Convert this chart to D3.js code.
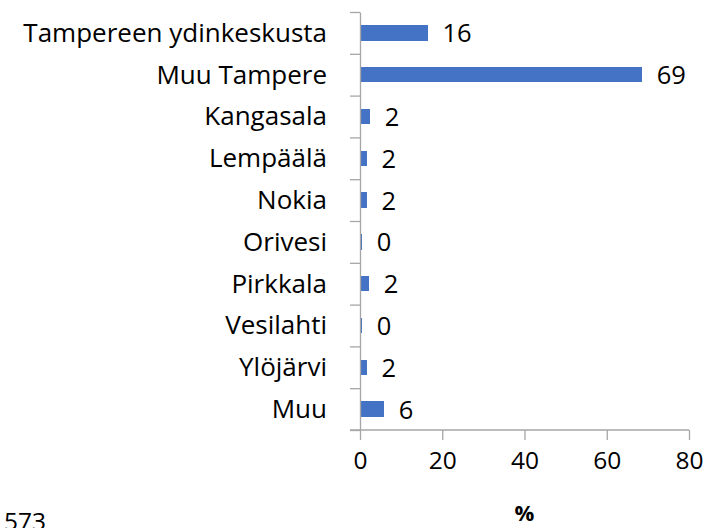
<!DOCTYPE html>
<html>
<head>
<meta charset="utf-8">
<script src="https://cdn.jsdelivr.net/npm/d3@7"></script>
<style>
  body { margin: 0; background: #fff; }
  svg text { font-family: "Open Sans", Lato, sans-serif; fill: #000; }
</style>
</head>
<body>
<div id="chart"></div>
<script>
(function () {

  // categories, top to bottom
  var places = ["Tampereen ydinkeskusta", "Muu Tampere", "Kangasala", "Lempäälä",
                "Nokia", "Orivesi", "Pirkkala", "Vesilahti", "Ylöjärvi", "Muu"];
  // share of respondents, %
  var shares = [16.4, 68.5, 2.4, 1.6, 1.6, 0.45, 2.1, 0.45, 1.6, 5.8];
  var xTicks = [0, 20, 40, 60, 80];
  var axisTitle = "%";
  var nNote = "573";

  var width = 710, height = 528;
  var fontSize = 24.5;

  var svg = d3.select("#chart")
    .append("svg")
    .attr("width", width)
    .attr("height", height);

  // value axis
  var xPositionScale = d3.scaleLinear()
    .domain([0, 80])
    .range([360, 689]);

  // categories
  var yPositionScale = d3.scaleBand()
    .domain(places)
    .range([12, 430])
    .paddingInner(0.63)
    .paddingOuter(0.315);

  // category boundaries for the tick marks
  var boundaryScale = d3.scaleLinear()
    .domain([0, places.length])
    .range([12, 430]);

  var axisColor = "#a6a6a6";

  // bars
  svg.selectAll(".bar")
    .data(places)
    .enter().append("rect")
    .attr("class", "bar")
    .attr("x", xPositionScale(0) + 0.5)
    .attr("y", function (d) { return yPositionScale(d) })
    .attr("height", yPositionScale.bandwidth())
    .attr("width", function (d, i) { return xPositionScale(shares[i]) - xPositionScale(0) })
    .attr("fill", "#4472c4")
    .attr("shape-rendering", "crispEdges");

  // bottom axis
  var xAxis = d3.axisBottom(xPositionScale)
    .tickValues(xTicks)
    .tickSize(10)
    .tickSizeOuter(0)
    .tickPadding(12);
  var gx = svg.append("g")
    .attr("class", "axis x-axis")
    .attr("transform", "translate(0,430)")
    .call(xAxis);
  gx.select(".domain").remove();
  gx.selectAll("line").attr("stroke", axisColor).attr("stroke-width", 1.3);
  gx.selectAll("text")
    .attr("font-size", fontSize)
    .style("font-family", "'Open Sans', sans-serif");

  // horizontal axis line starts at the outer category tick
  svg.append("line")
    .attr("x1", 350).attr("x2", xPositionScale(80))
    .attr("y1", 430).attr("y2", 430)
    .attr("stroke", axisColor).attr("stroke-width", 1.3);

  // left axis, ticks between categories
  var yAxis = d3.axisLeft(boundaryScale)
    .ticks(places.length)
    .tickSize(10)
    .tickSizeOuter(0)
    .tickFormat("");
  var gy = svg.append("g")
    .attr("class", "axis y-axis")
    .attr("transform", "translate(" + xPositionScale(0) + ",0)")
    .call(yAxis);
  gy.select(".domain").attr("stroke", axisColor).attr("stroke-width", 1.3);
  gy.selectAll("line").attr("stroke", axisColor).attr("stroke-width", 1.3);

  // category labels
  svg.selectAll(".cat-label")
    .data(places)
    .enter().append("text")
    .attr("class", "cat-label")
    .attr("x", 327)
    .attr("y", function (d) { return yPositionScale(d) + yPositionScale.bandwidth() / 2 })
    .attr("dy", "0.34em")
    .attr("text-anchor", "end")
    .attr("font-size", 26)
    .text(function (d) { return d });

  // data labels
  svg.selectAll(".val-label")
    .data(places)
    .enter().append("text")
    .attr("class", "val-label")
    .attr("x", function (d, i) { return xPositionScale(shares[i]) + 15 })
    .attr("y", function (d) { return yPositionScale(d) + yPositionScale.bandwidth() / 2 })
    .attr("dy", "0.37em")
    .attr("font-size", fontSize + 1)
    .text(function (d, i) { return Math.round(shares[i]) });

  // axis title
  svg.append("text")
    .attr("x", (xPositionScale(0) + xPositionScale(80)) / 2)
    .attr("y", 521)
    .attr("text-anchor", "middle")
    .attr("font-size", 22)
    .attr("font-weight", "bold")
    .text(axisTitle);

  // n
  svg.append("text")
    .attr("x", 4)
    .attr("y", 530)
    .attr("font-size", fontSize)
    .text(nNote);

})()
</script>
</body>
</html>
